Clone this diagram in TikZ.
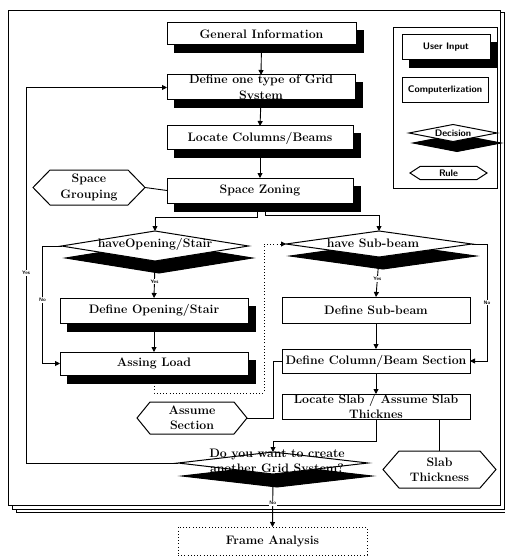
\documentclass[tikz,border=0pt]{standalone}
\usetikzlibrary{shapes.geometric,shadows,arrows.meta}
\newcommand{\flowfont}{\fontsize{12.3}{15.5}\selectfont\bfseries}
\newcommand{\keyfont}{\fontsize{9.5}{11}\selectfont\sffamily\bfseries}
\newcommand{\tagfont}{\fontsize{5}{6}\selectfont\sffamily\bfseries}
\tikzset{
  base/.style={inner sep=0pt, outer sep=0pt, font=\flowfont, align=center},
  userbox/.style={base, rectangle, draw, line width=1pt, fill=white,
     copy shadow={shadow xshift=7pt, shadow yshift=-8pt, fill=black, draw=black}},
  compbox/.style={base, rectangle, draw, line width=1pt, fill=white},
  decision/.style={base, diamond, draw, line width=1pt, fill=white,
     copy shadow={shadow xshift=4pt, shadow yshift=-#1, fill=black, draw=black}},
  decision/.default=12pt,
  rulebox/.style={base},
  outbox/.style={base, rectangle, draw, line width=0.9pt, dash pattern=on 1pt off 2.2pt},
  arr/.style={line width=0.9pt, -{Triangle[length=5pt,width=5pt]}},
  dotarr/.style={arr, dash pattern=on 1pt off 2.2pt},
  link/.style={line width=0.9pt},
  tag/.style={font=\tagfont, fill=white, inner sep=0.8pt},
  txt/.style={font=\flowfont, align=center, inner sep=0pt},
  pagesheet/.style={draw, line width=0.9pt, fill=white},
}
% hexagonal outline through the anchors of a node: name, inset of the points
\newcommand{\hexframe}[2]{%
  \draw[line width=1pt] (#1.west) -- ([xshift=#2]#1.north west) -- ([xshift=-#2]#1.north east)
    -- (#1.east) -- ([xshift=-#2]#1.south east) -- ([xshift=#2]#1.south west) -- cycle;}
\begin{document}
\begin{tikzpicture}[x=1pt,y=-1pt]
\useasboundingbox (0,0) rectangle (505,556);
\clip (0,0) rectangle (505,556);

% stack of sheets
\draw[pagesheet] (16,14) rectangle (512,512);
\draw[pagesheet] (12,12) rectangle (504,509);
\draw[pagesheet] (8,10) rectangle (500,505);

% key
\draw[line width=0.9pt] (393,27) rectangle (497,188);
\node[userbox, font=\keyfont, minimum width=88pt, minimum height=25pt] (kui) at (446,47.5) {User Input};
\node[compbox, font=\keyfont, minimum width=86pt, minimum height=25pt] (kcomp) at (445,90.5) {Computerlization};
\node[decision=10pt, minimum width=88pt, minimum height=17pt] (kdec) at (453,133) {};
\node[font=\keyfont, inner sep=0pt] at (kdec) {Decision};
\node[rulebox, font=\keyfont, minimum width=77pt, minimum height=13pt] (krule) at (448.5,173) {Rule};
\hexframe{krule}{10pt}

% flow
\node[userbox, minimum width=189pt, minimum height=22pt] (gen) at (261.5,34) {General Information};
\node[userbox, minimum width=188pt, minimum height=25pt] (grid) at (261,87.5) {};
\node[txt] at (261,88.5) {Define one type of Grid\\[0.5pt]System};
\node[userbox, minimum width=186pt, minimum height=24pt] (loc) at (260,138) {Locate Columns/Beams};
\node[userbox, minimum width=186pt, minimum height=25pt] (zone) at (260,190.5) {Space Zoning};
\node[rulebox, minimum width=112pt, minimum height=35pt] (grp) at (89,187.5) {Space\\Grouping};
\hexframe{grp}{17pt}

\node[decision, minimum width=187pt, minimum height=30pt] (hop) at (155,246) {};
\node[txt] at (155,244) {haveOpening/Stair};
\node[userbox, minimum width=188pt, minimum height=25pt] (dop) at (154,310.5) {Define Opening/Stair};
\node[userbox, minimum width=188pt, minimum height=23pt] (load) at (154,363.5) {Assing Load};

\node[decision, minimum width=186pt, minimum height=26pt] (hsb) at (379,244) {};
\node[txt] at (373,243) {have Sub-beam};
\node[compbox, minimum width=188pt, minimum height=26pt] (dsb) at (376,310) {Define Sub-beam};
\node[compbox, minimum width=188pt, minimum height=24pt] (sec) at (376,361) {Define Column/Beam Section};
\node[compbox, minimum width=188pt, minimum height=25pt] (slab) at (376,406.5) {};
\node[txt] at (376,406) {Locate Slab / Assume Slab\\[-0.5pt]Thicknes};
\node[rulebox, minimum width=110pt, minimum height=32pt] (asec) at (192,418) {Assume\\Section};
\hexframe{asec}{13pt}
\node[rulebox, minimum width=113pt, minimum height=37pt] (thk) at (439.5,469.5) {Slab\\Thickness};
\hexframe{thk}{16pt}

\node[decision=13pt, minimum width=190pt, minimum height=22pt] (again) at (273,463) {};
\node[txt] at (277,462) {Do you want to create\\another Grid System?};
\node[outbox, minimum width=189pt, minimum height=28pt] (fa) at (272.5,541) {Frame Analysis};

% connectors
\draw[arr] (gen.south) -- (grid.north);
\draw[arr] (grid.south) -- (loc.north);
\draw[arr] (loc.south) -- (zone.north);
\draw[link] (grp.east) -- (zone.west);
\draw[arr] ([xshift=-3pt]zone.south) -- ++(0,14) -| (hop.north);
\draw[arr] ([xshift=5pt]zone.south) -- ++(0,12) -| (hsb.north);
\draw[arr] (hop.south) -- node[tag, pos=0.55]{Yes} (dop.north);
\draw[arr] (hop.west) -- ++(-19,0) |- node[tag, pos=0.23]{No} (load.west);
\draw[arr] (dop.south) -- (load.north);
\draw[dotarr] ([yshift=-8pt]load.south) -- ++(0,10) -| ([xshift=-22pt]hsb.west) -- (hsb.west);
\draw[arr] (hsb.south) -- node[tag, pos=0.55]{Yes} (dsb.north);
\draw[arr] (hsb.east) -- ++(15,0) |- node[tag, pos=0.25]{No} (sec.east);
\draw[arr] (dsb.south) -- (sec.north);
\draw[arr] (sec.south) -- (slab.north);
\draw[link] (asec.east) -- ++(26,0) |- (sec.west);
\draw[arr] (slab.south) -- ++(0,22) -| (again.north);
\draw[link] (thk.north |- slab.south) -- (thk.north);
\draw[arr] (again.west) -- ++(-152,0) |- node[tag, pos=0.253]{Yes} (grid.west);
\draw[arr] (again.south) -- node[tag, pos=0.55]{No} (fa.north);
\end{tikzpicture}
\end{document}
